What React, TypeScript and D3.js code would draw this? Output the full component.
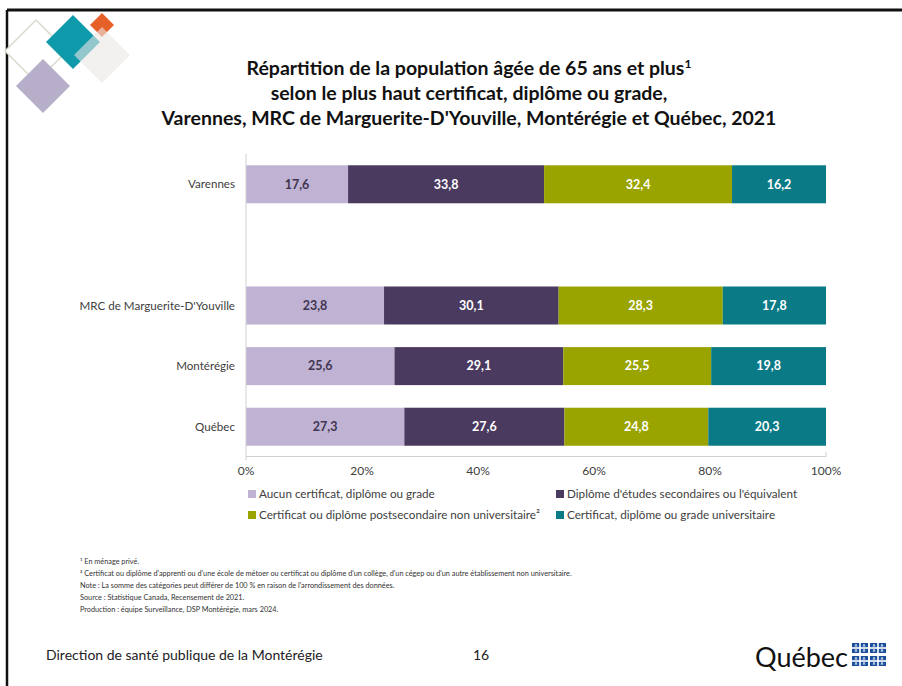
import React from "react";
import * as d3 from "d3";

const W = 902;
const H = 686;

const titleLines = [
  "Répartition de la population âgée de 65 ans et plus",
  "selon le plus haut certificat, diplôme ou grade,",
  "Varennes, MRC de Marguerite-D'Youville, Montérégie et Québec, 2021",
];

const categories = ["Varennes", "MRC de Marguerite-D'Youville", "Montérégie", "Québec"];
const bandDomain = ["Varennes", "__gap__", "MRC de Marguerite-D'Youville", "Montérégie", "Québec"];

const seriesNames = [
  "Aucun certificat, diplôme ou grade",
  "Diplôme d'études secondaires ou l'équivalent",
  "Certificat ou diplôme postsecondaire non universitaire²",
  "Certificat, diplôme ou grade universitaire",
];
const seriesColors = ["#c0b2d3", "#4a3a5f", "#9aa400", "#0a7a86"];
const labelColors = ["#3f3550", "#ffffff", "#ffffff", "#ffffff"];

const aucun = [17.6, 23.8, 25.6, 27.3];
const secondaire = [33.8, 30.1, 29.1, 27.6];
const postsec = [32.4, 28.3, 25.5, 24.8];
const universitaire = [16.2, 17.8, 19.8, 20.3];

const ticks = [0, 20, 40, 60, 80, 100];

const footnotes = [
  "¹ En ménage privé.",
  "² Certificat ou diplôme d'apprenti ou d'une école de métoer ou certificat ou diplôme d'un collège, d'un cégep ou d'un autre établissement non universitaire.",
  "Note : La somme des catégories peut différer de 100 % en raison de l'arrondissement des données.",
  "Source : Statistique Canada, Recensement de 2021.",
  "Production : équipe Surveillance, DSP Montérégie, mars 2024.",
];

const FONT = "Lato, 'Open Sans', sans-serif";

function diamond(cx: number, cy: number, r: number) {
  return `M${cx},${cy - r}L${cx + r},${cy}L${cx},${cy + r}L${cx - r},${cy}Z`;
}

function Flag({ x, y }: { x: number; y: number }) {
  const w = 16, h = 10;
  const fleur = (fx: number, fy: number) => (
    <g>
      <ellipse cx={fx} cy={fy - 0.4} rx={0.7} ry={1.2} fill="#fff" />
      <rect x={fx - 1.4} y={fy + 0.3} width={2.8} height={0.6} fill="#fff" />
    </g>
  );
  return (
    <g>
      <rect x={x} y={y} width={w} height={h} fill="#1b4f9c" />
      <rect x={x + w / 2 - 0.8} y={y} width={1.6} height={h} fill="#fff" />
      <rect x={x} y={y + h / 2 - 0.8} width={w} height={1.6} fill="#fff" />
      {fleur(x + w / 4, y + h / 4)}
      {fleur(x + (3 * w) / 4, y + h / 4)}
      {fleur(x + w / 4, y + (3 * h) / 4)}
      {fleur(x + (3 * w) / 4, y + (3 * h) / 4)}
    </g>
  );
}

export default function App() {
  const x = d3.scaleLinear().domain([0, 100]).range([246, 826]);
  const y = d3.scaleBand().domain(bandDomain).range([154, 457]).paddingInner(0.373).paddingOuter(0.186);

  const rows = categories.map((c, i) => ({
    cat: c,
    s0: aucun[i],
    s1: secondaire[i],
    s2: postsec[i],
    s3: universitaire[i],
  }));
  const stack = d3.stack<any>().keys(["s0", "s1", "s2", "s3"]);
  const layers = stack(rows);

  const legendPos = [
    { x: 248, y: 494 },
    { x: 556, y: 494 },
    { x: 248, y: 515 },
    { x: 556, y: 515 },
  ];

  return (
    <svg
      width={W}
      height={H}
      style={{ position: "absolute", left: 0, top: 0, background: "#fff" }}
      fontFamily={FONT}
    >
      <rect x={0} y={0} width={W} height={H} fill="#fff" />
      {/* slide border */}
      <line x1={7} y1={10} x2={W} y2={10} stroke="#111" strokeWidth={3} />
      <line x1={7} y1={10} x2={7} y2={H} stroke="#111" strokeWidth={2.5} />

      {/* logo */}
      <path d={diamond(36, 51, 31)} fill="#fff" stroke="#d9dccd" strokeWidth={1.5} />
      <path d={diamond(43, 86, 27)} fill="#b7aec9" />
      <path d={diamond(73, 42, 27)} fill="#0e9aab" />
      <path d={diamond(102, 25, 12)} fill="#e6602a" />
      <path d={diamond(102, 55, 28)} fill="#ebe7e5" opacity={0.6} />

      {/* title */}
      <g textAnchor="middle" fontWeight={700} fontSize={19.5} fill="#111">
        <text x={469} y={75}>
          {titleLines[0]}
          <tspan fontSize={12} dy={-7}>1</tspan>
        </text>
        <text x={469} y={100}>{titleLines[1]}</text>
        <text x={469} y={125}>{titleLines[2]}</text>
      </g>

      {/* bars */}
      {layers.map((layer, si) => (
        <g key={si}>
          {layer.map((d: any, ci: number) => {
            const cat = categories[ci];
            const x0 = x(d[0]);
            const x1 = x(d[1]);
            const yy = y(cat)!;
            return (
              <g key={ci}>
                <rect x={x0} y={yy} width={x1 - x0} height={y.bandwidth()} fill={seriesColors[si]} />
                <text
                  x={(x0 + x1) / 2}
                  y={yy + y.bandwidth() / 2}
                  dy="0.35em"
                  textAnchor="middle"
                  fontWeight={700}
                  fontSize={12.5}
                  fill={labelColors[si]}
                >
                  {(d[1] - d[0]).toFixed(1).replace(".", ",")}
                </text>
              </g>
            );
          })}
        </g>
      ))}

      {/* axes */}
      <line x1={x(0)} y1={154} x2={x(0)} y2={460} stroke="#d0d0d0" strokeWidth={1} />
      <line x1={x(0)} y1={456.5} x2={x(100)} y2={456.5} stroke="#d0d0d0" strokeWidth={1} />
      <line x1={x(100)} y1={452} x2={x(100)} y2={457} stroke="#d0d0d0" strokeWidth={1} />
      {ticks.map((t) => (
        <text key={t} x={x(t)} y={471} dy="0.35em" textAnchor="middle" fontSize={12} fill="#404040">
          {t}%
        </text>
      ))}
      {categories.map((c) => (
        <text key={c} x={235} y={y(c)! + y.bandwidth() / 2} dy="0.35em" textAnchor="end" fontSize={11.6} fill="#404040">
          {c}
        </text>
      ))}

      {/* legend */}
      {seriesNames.map((s, i) => (
        <g key={s}>
          <rect x={legendPos[i].x} y={legendPos[i].y - 4} width={8} height={8} fill={seriesColors[i]} />
          <text x={legendPos[i].x + 11} y={legendPos[i].y} dy="0.35em" fontSize={11.7} fill="#404040">
            {s}
          </text>
        </g>
      ))}

      {/* footnotes */}
      {footnotes.map((f, i) => (
        <text key={i} x={80} y={564 + i * 12} fontSize={7.3} fill="#333">
          {f}
        </text>
      ))}

      {/* footer */}
      <text x={46} y={660} fontSize={14} fill="#222">Direction de santé publique de la Montérégie</text>
      <text x={473} y={660} fontSize={14} fill="#222">16</text>

      {/* Québec logo */}
      <text x={755} y={667} fontSize={27} fill="#111" fontFamily="Lato, sans-serif">
        Québec
      </text>
      <Flag x={852} y={643} />
      <Flag x={870} y={643} />
      <Flag x={852} y={656} />
      <Flag x={870} y={656} />
    </svg>
  );
}
